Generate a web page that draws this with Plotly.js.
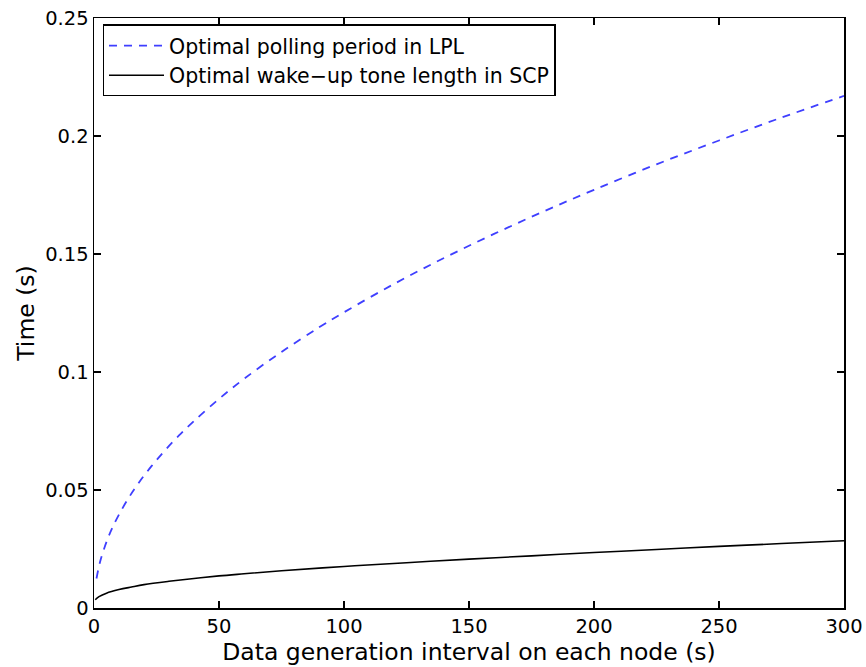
<!DOCTYPE html>
<html>
<head>
<meta charset="utf-8">
<script src="https://cdn.plot.ly/plotly-3.0.1.min.js"></script>
<style>html,body{margin:0;padding:0;background:#fff;}#chart{width:866px;height:667px;}</style>
</head>
<body>
<div id="chart"></div>
<script>
// Optimal polling period in LPL (blue dashed)
const lplX = [1, 2, 3, 5, 7, 10, 14, 18, 23, 28, 34, 40, 50, 60, 75, 90, 100, 120, 140, 160, 180, 200, 225, 250, 275, 300];
const lplY = [0.0125, 0.0177, 0.0217, 0.0280, 0.0332, 0.0396, 0.0469, 0.0532, 0.0601, 0.0663, 0.0731, 0.0792, 0.0886, 0.0971, 0.1085, 0.1189, 0.1253, 0.1373, 0.1483, 0.1585, 0.1681, 0.1772, 0.1880, 0.1981, 0.2078, 0.2170];
// Optimal wake-up tone length in SCP (black solid)
const scpX = [0.5, 2, 5, 10, 15, 20, 30, 40, 50, 60, 75, 100, 125, 150, 175, 200, 225, 250, 275, 300];
const scpY = [0.0035, 0.0048, 0.0063, 0.0078, 0.0089, 0.0099, 0.0113, 0.0125, 0.0136, 0.0145, 0.0158, 0.0176, 0.0192, 0.0207, 0.0221, 0.0235, 0.0248, 0.0261, 0.0273, 0.0285];
const seriesNames = ["Optimal polling period in LPL", "Optimal wake\u2212up tone length in SCP"];
const xTicks = [0, 50, 100, 150, 200, 250, 300];
const yTicks = [0, 0.05, 0.1, 0.15, 0.2, 0.25];
const yTickText = ["0", "0.05", "0.1", "0.15", "0.2", "0.25"];

const fontFam = "DejaVu Sans, Liberation Sans, Arial, sans-serif";
const traces = [
  {x: lplX, y: lplY, name: seriesNames[0], mode: "lines", line: {color: "#3f3fff", width: 1.8, dash: "8px,7px", shape: "spline"}},
  {x: scpX, y: scpY, name: seriesNames[1], mode: "lines", line: {color: "#000000", width: 1.6, shape: "spline"}}
];
const axisCommon = {
  showgrid: false, zeroline: false, showline: true, linecolor: "#000", linewidth: 1.5,
  mirror: "ticks", ticks: "inside", ticklen: 7, tickwidth: 1.3, tickcolor: "#000",
  tickfont: {family: fontFam, size: 19.5, color: "#000"}
};
const layout = {
  width: 866, height: 667,
  margin: {l: 94, r: 22, t: 18, b: 59},
  paper_bgcolor: "#fff", plot_bgcolor: "#fff",
  showlegend: true,
  xaxis: Object.assign({}, axisCommon, {
    range: [0, 300], tickvals: xTicks, ticktext: xTicks.map(String),
    title: {text: "Data generation interval on each node (s)", font: {family: fontFam, size: 23.5, color: "#000"}, standoff: 0}
  }),
  yaxis: Object.assign({}, axisCommon, {
    range: [0, 0.25], tickvals: yTicks, ticktext: yTickText,
    title: {text: "Time (s)", font: {family: fontFam, size: 23.5, color: "#000"}, standoff: 4}
  }),
  legend: {
    x: 0.0116, y: 0.989, xanchor: "left", yanchor: "top",
    bgcolor: "#fff", bordercolor: "#000", borderwidth: 1.3,
    font: {family: fontFam, size: 20.5, color: "#000"},
    tracegroupgap: 0, itemwidth: 55
  }
};
Plotly.newPlot("chart", traces, layout, {staticPlot: true, displayModeBar: false});
</script>
</body>
</html>
